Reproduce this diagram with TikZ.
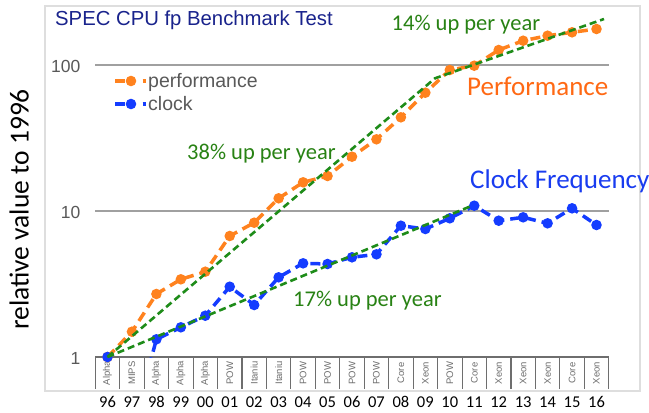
\documentclass[tikz,border=0pt]{standalone}
\usepackage{fontspec}
\setmainfont{Carlito}
\newfontfamily\arialf{Liberation Sans}
\definecolor{orng}{RGB}{255,130,30}
\definecolor{orngtxt}{RGB}{255,105,20}
\definecolor{blu}{RGB}{20,60,255}
\definecolor{blutxt}{RGB}{25,60,240}
\definecolor{grn}{RGB}{30,140,25}
\definecolor{grntxt}{RGB}{40,130,20}
\definecolor{navy}{RGB}{25,35,140}
\definecolor{grtxt}{RGB}{89,89,89}
\definecolor{framec}{RGB}{222,222,222}
\definecolor{gridc}{RGB}{160,160,160}
\definecolor{boxc}{RGB}{110,110,110}
\begin{document}
\begin{tikzpicture}[x=1pt,y=-1pt,
  series/.style={line width=3.5pt, dash pattern=on 10pt off 6pt},
  trend/.style={grn, line width=2.6pt, dash pattern=on 7pt off 4pt},
  gridln/.style={gridc, line width=1.3pt},
  boxln/.style={boxc, line width=1.1pt},
  ticklab/.style={anchor=base east, inner sep=0pt, text=grtxt, font=\arialf\fontsize{17.5}{20}\selectfont},
  boxlab/.style={rotate=90, inner sep=0pt, text=boxc, font=\arialf\fontsize{9.5}{10}\selectfont},
  yearlab/.style={anchor=base, inner sep=0pt, font=\fontsize{16.5}{18}\selectfont},
  trendlab/.style={anchor=base west, inner sep=0pt, text=grntxt, font=\fontsize{22.5}{24}\selectfont},
  biglab/.style={anchor=base west, inner sep=0pt, font=\fontsize{27}{29}\selectfont},
  leglab/.style={anchor=base west, inner sep=0pt, text=grtxt, font=\arialf\fontsize{19.5}{22}\selectfont}]
\useasboundingbox[fill=white] (0,0) rectangle (649,413);
% frame
\draw[framec, line width=1.5pt] (45,6) rectangle (640,391);
% title
\node[anchor=base west, inner sep=0pt, text=navy, font=\arialf\fontsize{20.3}{22}\selectfont] (title) at (55,25.5) {SPEC CPU fp Benchmark Test};
% gridlines
\draw[gridln] (95,65) -- (608.7,65);
\draw[gridln] (95,211) -- (608.7,211);
\node[ticklab] (t100) at (80.5,72.5) {100};
\node[ticklab] (t10) at (80.5,218.5) {10};
\node[ticklab] (t1) at (80.5,364) {1};
% y axis title
\node[rotate=90, anchor=base, inner sep=0pt, font=\fontsize{27.5}{29}\selectfont] (ytitle) at (28.5,209.5) {relative value to 1996};
% category boxes
\draw[boxln] (95.3,357) -- (608.7,357);
\foreach \i in {0,...,21} { \draw[boxln] ({95.3+24.45*\i},357) -- ({95.3+24.45*\i},389); }
\foreach \lab [count=\i from 0] in {Alpha,MIPS,Alpha,Alpha,Alpha,POW,Itaniu,Itaniu,POW,POW,POW,POW,Core,Xeon,POW,Core,Xeon,Xeon,Xeon,Core,Xeon} {
  \node[boxlab] (bl\i) at ({107.5+24.45*\i},373) {\lab};
}
\foreach \yr [count=\i from 0] in {96,97,98,99,00,01,02,03,04,05,06,07,08,09,10,11,12,13,14,15,16} {
  \node[yearlab] (yr\i) at ({107.5+24.45*\i},407) {\yr};
}
% data coordinates
\foreach \yy [count=\i from 0] in {357,331.7,294,279.3,271.7,236,222.7,198.3,182.3,176,156.7,139.3,117.3,92.7,70,65.7,50,40.7,35.7,32.3,29} {
  \coordinate (o\i) at ({107.5+24.45*\i},\yy);
}
\foreach \yy [count=\i from 0] in {357,431,339.3,327.3,315.7,286.7,305,277.3,263.3,264,257.3,254.3,225.7,229,218.3,205.7,220.7,217.3,223.3,208.3,225} {
  \coordinate (b\i) at ({107.5+24.45*\i},\yy);
}
% performance series
\draw[orng, series] (o0) \foreach \i in {1,...,20} { -- (o\i) };
\foreach \i in {0,...,20} { \fill[orng] (o\i) circle (5.3pt); }
% clock series
\begin{scope}
  \clip (45,6) rectangle (640,357);
  \draw[blu, series] (b0) \foreach \i in {1,...,20} { -- (b\i) };
\end{scope}
\foreach \i in {0,2,3,...,20} { \fill[blu] (b\i) circle (5.3pt); }
% trend lines
\coordinate (k1) at (435,78.3);
\coordinate (k2) at (604,19);
\coordinate (k3) at (470,206.5);
\draw[trend] (o0) -- (k1) -- (k2);
\draw[trend] (o0) -- (k3);
% labels
\node[trendlab] (l14) at (391.5,30.5) {14\% up per year};
\node[trendlab] (l38) at (187,159) {38\% up per year};
\node[trendlab] (l17) at (293,306.5) {17\% up per year};
\node[biglab, text=orngtxt] (lperf) at (467,95) {Performance};
\node[biglab, text=blutxt] (lclk) at (470,188) {Clock Frequency};
% legend
\coordinate (lo) at (131,81);
\coordinate (lb) at (131,104);
\draw[orng, line width=3.5pt] (115,81) -- (125,81) (142.5,81) -- (146,81);
\fill[orng] (lo) circle (5.3pt);
\draw[blu, line width=3.5pt] (115,104) -- (125,104) (142.5,104) -- (146,104);
\fill[blu] (lb) circle (5.3pt);
\node[leglab] (lgp) at (148,87.5) {performance};
\node[leglab] (lgc) at (148,110) {clock};
\end{tikzpicture}
\end{document}
